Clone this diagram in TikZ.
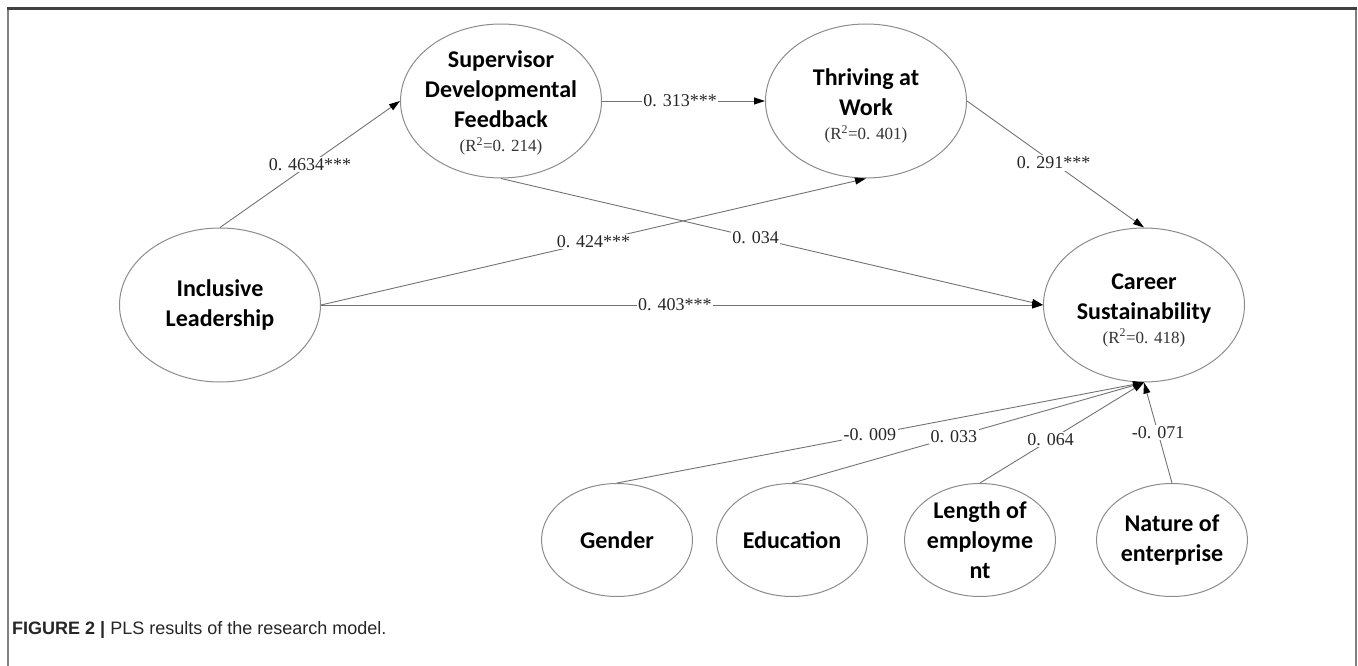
\documentclass[tikz,border=0pt]{standalone}
\usepackage{fontspec}
\setmainfont{Liberation Serif}
\newfontfamily\calfont{Carlito}
\newfontfamily\capfont{Liberation Sans}
\usetikzlibrary{shapes.geometric,arrows.meta}
\tikzset{
  ell/.style={ellipse, draw=black!45, line width=1pt, inner sep=0pt},
  bigell/.style={ell, minimum width=201pt, minimum height=154pt},
  smallell/.style={ell, minimum width=151pt, minimum height=113pt},
  ttxt/.style={align=center, inner sep=0pt, font=\calfont\bfseries\fontsize{24}{30}\selectfont},
  conn/.style={draw=black!55, line width=0.9pt, -{Triangle[length=11pt,width=7pt,color=black]}},
  lbl/.style={fill=white, inner sep=1.5pt, text=black!85, font=\fontsize{18}{21}\selectfont},
}
\newcommand{\rsq}[1]{{\fontsize{17}{20}\selectfont\color{black!80}\mdseries\rmfamily (R\textsuperscript{2}=0. #1)}}
\begin{document}
\begin{tikzpicture}[x=1pt,y=-1pt]
\useasboundingbox (0,0) rectangle (1358,666);
% frame
\draw[black!50, line width=2pt] (8,8) -- (8,666);
\draw[black!50, line width=2pt] (1356,8) -- (1356,666);
\draw[black!75, line width=2.5pt] (7,8.5) -- (1357,8.5);
% ellipses
\node[bigell] (sdf) at (501,101) {};
\node[bigell] (tw) at (866,101) {};
\node[bigell] (il) at (220,305) {};
\node[bigell] (cs) at (1144,305) {};
\node[smallell] (g) at (617,540) {};
\node[smallell] (ed) at (792,540) {};
\node[smallell] (le) at (980,540) {};
\node[smallell] (ne) at (1172,540) {};
% texts
\node[ttxt] (sdft) at (501,103) {Supervisor\\Developmental\\Feedback\\[-6pt]\rsq{214}};
\node[ttxt] (twt) at (866,106) {Thriving at\\Work\\[-6pt]\rsq{401}};
\node[ttxt] (ilt) at (220,305) {Inclusive\\Leadership};
\node[ttxt] (cst) at (1144,310) {Career\\Sustainability\\[-6pt]\rsq{418}};
\node[ttxt] (gt) at (617,540) {Gender};
\node[ttxt] (edt) at (792,540) {Education};
\node[ttxt] (let) at (980,540) {Length of\\employme\\nt};
\node[ttxt] (net) at (1172,540) {Nature of\\enterprise};
% connectors
\draw[conn] (il.north) -- node[lbl, pos=0.5] {0. 4634***} (sdf.west);
\draw[conn] (sdf.east) -- node[lbl, pos=0.48] {0. 313***} (tw.west);
\draw[conn] (sdf.south) -- node[lbl, pos=0.47] {0. 034} (cs.west);
\draw[conn] (il.east) -- node[lbl, pos=0.5] {0. 424***} (tw.south);
\draw[conn] (il.east) -- node[lbl, pos=0.49] {0. 403***} (cs.west);
\draw[conn] (tw.east) -- node[lbl, pos=0.49] {0. 291***} (cs.north);
\draw[conn] (g.north) -- node[lbl, pos=0.48] {-0. 009} (cs.south);
\draw[conn] (ed.north) -- node[lbl, pos=0.46] {0. 033} (cs.south);
\draw[conn] (le.north) -- node[lbl, pos=0.43] {0. 064} (cs.south);
\draw[conn] (ne.north) -- node[lbl, pos=0.5] {-0. 071} (cs.south);
% caption
\node[anchor=base west, inner sep=0pt, font=\capfont\fontsize{18}{21}\selectfont, text=black!85] (cap) at (12,634) {\textbf{FIGURE 2 |} PLS results of the research model.};
\end{tikzpicture}
\end{document}
